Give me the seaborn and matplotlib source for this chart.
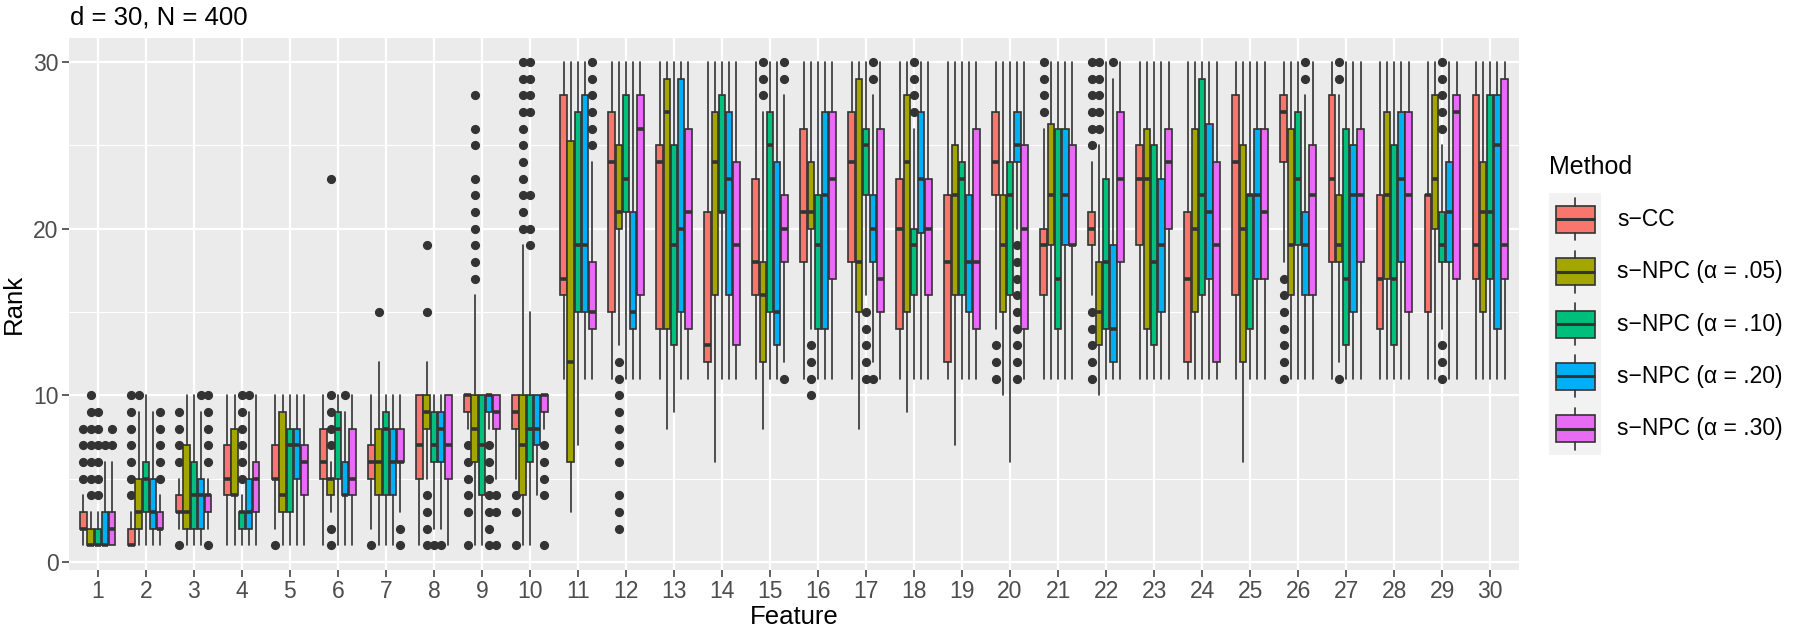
import matplotlib
matplotlib.use("Agg")
import matplotlib.pyplot as plt
import seaborn as sns
from matplotlib.patches import Rectangle
from matplotlib.lines import Line2D

# ---------------- data ----------------
features = list(range(1, 31))
methods = ["s\u2212CC", "s\u2212NPC (\u03b1 = .05)", "s\u2212NPC (\u03b1 = .10)",
           "s\u2212NPC (\u03b1 = .20)", "s\u2212NPC (\u03b1 = .30)"]
colors = ["#F8766D", "#A3A500", "#00BF7D", "#00B0F6", "#E76BF3"]
y_ticks = [0, 10, 20, 30]

scc_lo = [1, 1, 2, 1, 2, 1, 2, 1, 8, 5, 11, 11, 11, 11, 11, 11, 11, 11, 11, 14, 11, 16, 11, 11, 11, 18, 11, 11, 11, 11]
scc_q1 = [2, 1, 3, 4, 5, 5, 5, 5, 9, 8, 16, 15, 14, 12, 16, 18, 18, 14, 12, 22, 16, 19, 19, 12, 16, 24, 18, 14, 15, 17]
scc_med = [2, 1, 3, 5, 5, 6, 6, 7, 10, 9, 17, 24, 24, 13, 18, 21, 24, 20, 18, 24, 19, 20, 23, 17, 24, 27, 23, 17, 22, 19]
scc_q3 = [3, 2, 4, 7, 7, 8, 7, 10, 10, 10, 28, 27, 25, 21, 23, 26, 27, 23, 22, 27, 20, 21, 25, 21, 28, 28, 28, 22, 22, 28]
scc_hi = [4, 3, 5, 10, 10, 10, 10, 10, 10, 10, 30, 30, 30, 30, 30, 30, 30, 30, 30, 30, 26, 24, 30, 30, 30, 30, 30, 30, 30, 30]
scc_out = [[5, 6, 7, 8], [4, 5, 6, 7, 8, 9, 10], [1, 6, 7, 8, 9], [], [1], [], [1], [], [1, 3, 4, 5, 6, 7], [1, 3, 4],
           [], [], [], [], [], [], [], [], [], [11, 12, 13],
           [27, 28, 29, 30], [11, 12, 13, 14, 15, 25, 26, 27, 28, 29, 30], [], [], [], [11, 12, 13, 14, 15, 16, 17], [], [], [], []]

npc05_lo = [1, 1, 1, 1, 1, 3, 1, 5, 1, 1, 3, 13, 8, 6, 8, 14, 8, 9, 7, 10, 11, 10, 11, 11, 6, 11, 12, 11, 11, 11]
npc05_q1 = [1, 2, 2, 4, 3, 4, 4, 8, 6, 4, 6, 20, 14, 16, 12, 20, 15, 15, 16, 15, 19, 13, 14, 15, 12, 16, 18, 17, 20, 15]
npc05_med = [1, 3, 3, 4, 4, 5, 6, 9, 8, 7, 12, 21, 27, 24, 16, 21, 18, 24, 22, 19, 22, 15, 23, 20, 20, 19, 19, 22, 23, 21]
npc05_q3 = [2, 5, 7, 8, 9, 5, 8, 10, 10, 10, 25.25, 25, 29, 27, 18, 24, 29, 28, 25, 22, 26.25, 18, 26, 26, 25, 26, 22, 27, 28, 24]
npc05_hi = [3, 9, 10, 10, 10, 6, 12, 12, 16, 19, 30, 30, 30, 30, 27, 30, 30, 30, 30, 30, 30, 25, 30, 30, 30, 30, 28, 30, 30, 30]
npc05_out = [[4, 5, 6, 7, 8, 9, 10], [10], [], [], [], [1, 2, 7, 8, 9, 10, 23], [15], [1, 2, 3, 4, 15, 19],
             [17, 18, 19, 20, 21, 22, 23, 25, 26, 28], [20, 21, 22, 23, 24, 25, 26, 27, 28, 29, 30],
             [], [2, 3, 4, 6, 7, 8, 9, 10, 11, 12], [], [], [28, 29, 30], [10, 11, 12, 13], [], [], [], [],
             [], [26, 27, 28, 29, 30], [], [], [], [], [11, 29, 30], [], [], []]

npc10_lo = [1, 1, 1, 1, 1, 1, 1, 2, 1, 1, 7, 11, 9, 11, 11, 11, 16, 11, 11, 6, 11, 11, 11, 11, 11, 11, 11, 11, 14, 11]
npc10_q1 = [1, 3, 2, 2, 3, 5, 4, 6, 4, 6, 15, 21, 13, 21, 15, 14, 22, 16, 16, 16, 14, 14, 13, 16, 14, 19, 13, 13, 18, 17]
npc10_med = [1, 5, 4, 3, 7, 8, 8, 7, 7, 8, 19, 23, 19, 21, 25, 19, 25, 19, 23, 22, 17, 18, 18, 22, 22, 23, 17, 17, 19, 21]
npc10_q3 = [2, 6, 6, 3, 8, 9, 9, 9, 10, 10, 27, 28, 25, 28, 27, 22, 26, 20, 24, 24, 26, 23, 25, 29, 22, 27, 26, 25, 21, 28]
npc10_hi = [3, 10, 10, 4, 10, 10, 10, 10, 10, 15, 30, 30, 30, 30, 30, 30, 30, 26, 30, 30, 30, 30, 30, 30, 30, 30, 30, 30, 25, 30]
npc10_out = [[4, 5, 6, 7, 8, 9], [], [], [5, 6, 7, 8, 9, 10], [], [], [], [1], [], [19, 20, 22, 27, 28, 29, 30],
             [], [], [], [], [], [], [11, 12, 13, 14, 15], [27, 28, 29, 30], [], [],
             [], [], [], [], [], [], [], [], [11, 12, 13, 26, 27, 28, 29, 30], []]

npc20_lo = [1, 1, 1, 1, 1, 1, 1, 2, 8, 4, 11, 11, 11, 11, 11, 11, 12, 11, 11, 20, 11, 11, 11, 11, 11, 11, 11, 11, 11, 11]
npc20_q1 = [1, 2, 2, 2, 5, 4, 4, 6, 9, 7, 15, 14, 15, 16, 13, 14, 18, 19.75, 15, 24, 19, 12, 15, 17, 17, 16, 15, 18, 18, 14]
npc20_med = [1, 3, 4, 3, 7, 4, 6, 8, 10, 8, 19, 15, 20, 23, 15, 22, 20, 23, 18, 25, 22, 14, 19, 21, 22, 19, 22, 23, 21, 25]
npc20_q3 = [3, 5, 5, 5, 8, 6, 8, 9, 10, 10, 28, 21, 29, 27, 24, 27, 22, 27, 22, 27, 26, 19, 23, 26.25, 26, 21, 25, 27, 24, 28]
npc20_hi = [6, 9, 9, 9, 10, 9, 10, 10, 10, 10, 30, 30, 30, 30, 30, 30, 28, 30, 30, 30, 30, 29, 30, 30, 30, 28, 30, 30, 30, 30]
npc20_out = [[7], [], [10], [10], [], [10], [], [1], [1, 2, 3, 4, 5, 6, 7], [],
             [], [], [], [], [], [], [11, 29, 30], [], [], [11, 12, 13, 14, 15, 16, 17, 18, 19],
             [], [30], [], [], [], [29, 30], [], [], [], []]

npc30_lo = [1, 1, 2, 1, 1, 1, 3, 1, 5, 8, 11, 11, 11, 11, 12, 11, 11, 11, 11, 11, 11, 11, 11, 11, 11, 11, 11, 11, 11, 11]
npc30_q1 = [1, 2, 3, 3, 4, 4, 6, 5, 8, 9, 14, 16, 14, 13, 18, 17, 15, 16, 14, 14, 19, 18, 20, 12, 17, 16, 18, 15, 17, 17]
npc30_med = [2, 2, 4, 5, 6, 5, 6, 7, 9, 10, 15, 26, 21, 19, 20, 23, 17, 20, 18, 20, 19, 23, 24, 19, 21, 22, 22, 22, 27, 19]
npc30_q3 = [3, 3, 4, 6, 7, 8, 8, 10, 10, 10, 18, 28, 26, 24, 22, 27, 26, 23, 26, 25, 25, 27, 26, 24, 26, 25, 26, 27, 28, 29]
npc30_hi = [6, 4, 5, 10, 10, 10, 10, 10, 10, 10, 24, 30, 30, 30, 28, 30, 30, 30, 30, 30, 30, 30, 30, 30, 30, 30, 30, 30, 30, 30]
npc30_out = [[7, 8], [5, 6, 7, 8, 9], [1, 6, 7, 8, 9, 10], [], [], [], [1, 2], [], [1, 3, 4], [1, 4, 5, 6, 7],
             [25, 26, 27, 28, 29, 30], [], [], [], [11, 29, 30], [], [], [], [], [],
             [], [], [], [], [], [], [], [], [], []]

series = [
    (scc_lo, scc_q1, scc_med, scc_q3, scc_hi, scc_out),
    (npc05_lo, npc05_q1, npc05_med, npc05_q3, npc05_hi, npc05_out),
    (npc10_lo, npc10_q1, npc10_med, npc10_q3, npc10_hi, npc10_out),
    (npc20_lo, npc20_q1, npc20_med, npc20_q3, npc20_hi, npc20_out),
    (npc30_lo, npc30_q1, npc30_med, npc30_q3, npc30_hi, npc30_out),
]

# ---------------- style ----------------
sns.set_theme(style="darkgrid", rc={
    "axes.facecolor": "#EBEBEB",
    "grid.color": "white",
})
plt.rcParams["font.family"] = ["Liberation Sans", "DejaVu Sans"]

W, H = 1800, 629
fig = plt.figure(figsize=(W / 100, H / 100), dpi=100)
fig.patch.set_facecolor("white")


def fx(x):
    return x / W


def fy(y):
    return 1 - y / H


left, right, top, bottom = 69, 1519, 37.7, 569.5
ax = fig.add_axes([fx(left), fy(bottom), fx(right - left), (bottom - top) / H])

edge = "#333333"
slot = 0.15
bw = 0.135
for j, (lo, q1, med, q3, hi, out) in enumerate(series):
    stats = [dict(whislo=lo[i], q1=q1[i], med=med[i], q3=q3[i], whishi=hi[i], fliers=out[i])
             for i in range(len(features))]
    pos = [f + (j - 2) * slot for f in features]
    ax.bxp(stats, positions=pos, widths=bw, patch_artist=True, showcaps=False,
           manage_ticks=False,
           boxprops=dict(facecolor=colors[j], edgecolor=edge, linewidth=1.2),
           medianprops=dict(color=edge, linewidth=2.6, solid_capstyle="butt"),
           whiskerprops=dict(color=edge, linewidth=1.2),
           flierprops=dict(marker="o", markerfacecolor=edge, markeredgecolor=edge,
                           markersize=5.6, linestyle="none"))

ax.set_xlim(0.4, 30.6)
ax.set_ylim(-0.45, 31.45)
ax.set_xticks(features)
ax.set_xticklabels([str(f) for f in features])
ax.set_yticks(y_ticks)
ax.set_yticks([5, 15, 25], minor=True)
ax.grid(which="major", color="white", linewidth=1.6)
ax.grid(which="minor", axis="y", color="white", linewidth=0.8)
ax.grid(which="minor", axis="x", visible=False)
ax.set_axisbelow(True)
for s in ax.spines.values():
    s.set_visible(False)
ax.tick_params(which="major", bottom=True, left=True, length=5, width=1.1, color=edge,
               labelsize=16.5, labelcolor="#4D4D4D", pad=2.5)
ax.tick_params(which="minor", length=0)
ax.set_xlabel("")
ax.set_ylabel("")

# titles
fig.text(fx(70), fy(25), "d = 30, N = 400", fontsize=18.5, color="black", ha="left", va="baseline")
fig.text(fx((left + right) / 2), fy(624), "Feature", fontsize=18.5, color="black", ha="center",
         va="baseline")
fig.text(fx(14), fy((top + bottom) / 2), "Rank", fontsize=18.5, color="black", ha="center", va="center",
         rotation=90)

# legend (ggplot-style, drawn in pixel space)
lg = fig.add_axes([0, 0, 1, 1], facecolor="none")
lg.set_xlim(0, W)
lg.set_ylim(H, 0)
lg.set_axis_off()
fig.text(fx(1549), fy(167), "Method", fontsize=18, color="black", ha="left", va="center")
lg.add_patch(Rectangle((1549, 193), 52, 262, facecolor="#F2F2F2", edgecolor="none"))
for k, (name, c) in enumerate(zip(methods, colors)):
    cy = 193 + 26.2 + 52.4 * k
    lg.add_line(Line2D([1575, 1575], [cy - 21, cy - 13.5], color=edge, linewidth=1.2))
    lg.add_line(Line2D([1575, 1575], [cy + 13.5, cy + 21], color=edge, linewidth=1.2))
    lg.add_patch(Rectangle((1555.5, cy - 13.5), 39, 27, facecolor=c, edgecolor=edge, linewidth=1.2))
    lg.add_line(Line2D([1555.5, 1594.5], [cy, cy], color=edge, linewidth=2.2, solid_capstyle="butt"))
    fig.text(fx(1617), fy(cy), name, fontsize=16.5, color="black", ha="left", va="center")

fig.savefig("out.png", dpi=100, facecolor="white")
